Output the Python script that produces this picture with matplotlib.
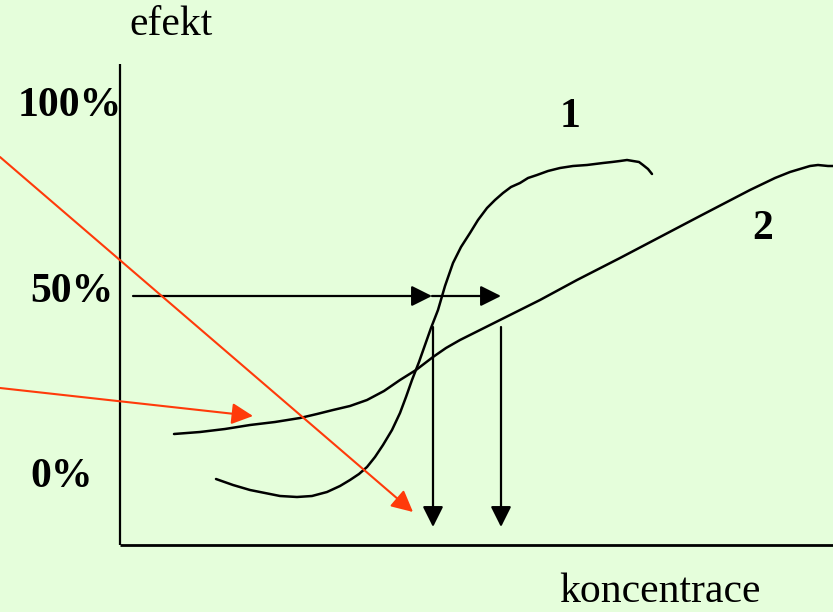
import matplotlib
matplotlib.use("Agg")
import matplotlib.pyplot as plt

# Curve 1 (steep sigmoid) - picture coordinates
curve1_x = [216, 233, 250, 265, 280, 297, 312, 327, 340, 350, 359, 367, 375, 383, 392,
            400, 406, 412, 419, 425, 431, 438, 445, 453, 461, 470, 478, 487, 495, 503,
            511, 520, 528, 537, 548, 560, 573, 587, 603, 612, 620, 627, 633, 639, 643,
            648, 652]
curve1_y = [479, 485, 490, 493, 496, 497, 496, 492, 486, 480, 474, 467, 457, 445, 430,
            413, 397, 380, 362, 345, 328, 310, 286, 263, 247, 233, 220, 208, 200, 193,
            187, 183, 178, 175, 171, 168, 166, 165, 163, 162, 161, 160, 161, 162, 165,
            169, 174]

# Curve 2 (shallow)
curve2_x = [174, 200, 225, 250, 275, 300, 317, 333, 350, 367, 384, 400, 416, 433, 446,
            460, 480, 500, 540, 577, 620, 660, 700, 750, 775, 790, 800, 810, 818, 828, 833]
curve2_y = [434, 432, 429, 425, 422, 418, 414, 410, 406, 400, 391, 380, 370, 357, 348,
            340, 330, 320, 300, 280, 258, 237, 216, 190, 178, 172, 169, 166, 165, 166, 166]

# Arrows: (x0, y0, x1, y1)
black_arrows = [(133, 296, 432, 296), (432, 296, 501, 296),
                (433, 327, 433, 527), (501, 327, 501, 527)]
red_arrows = [(0, 157, 413, 512), (0, 388, 253, 416)]

# Axis lines
yaxis = (120, 64, 120, 545)
xaxis = (120, 545, 833, 545)

labels_bold = [("100%", 70, 116), ("50%", 72, 302), ("0%", 62, 487),
               ("1", 570, 127), ("2", 763, 239)]
labels_reg = [("efekt", 171, 35), ("koncentrace", 660, 602)]

bg = "#e5fedb"
red = "#ff3a0a"

fig = plt.figure(figsize=(8.33, 6.12), dpi=100, facecolor=bg)
ax = fig.add_axes([0, 0, 1, 1])
ax.set_facecolor(bg)
ax.set_xlim(0, 833)
ax.set_ylim(612, 0)
ax.axis("off")

ax.plot([yaxis[0], yaxis[2]], [yaxis[1], yaxis[3]], color="black", lw=1.6, solid_capstyle="butt")
ax.plot([xaxis[0], xaxis[2]], [xaxis[1], xaxis[3]], color="black", lw=2.0, solid_capstyle="butt")

ax.plot(curve1_x, curve1_y, color="black", lw=1.8, solid_capstyle="round", solid_joinstyle="round")
ax.plot(curve2_x, curve2_y, color="black", lw=1.8, solid_capstyle="round", solid_joinstyle="round")

for x0, y0, x1, y1 in black_arrows:
    ax.annotate("", xy=(x1, y1), xytext=(x0, y0),
                arrowprops=dict(arrowstyle="-|>,head_length=1.0,head_width=0.5",
                                mutation_scale=12.5, lw=1.6, color="black",
                                shrinkA=0, shrinkB=0))
for x0, y0, x1, y1 in red_arrows:
    ax.annotate("", xy=(x1, y1), xytext=(x0, y0),
                arrowprops=dict(arrowstyle="-|>,head_length=1.0,head_width=0.5",
                                mutation_scale=13, lw=1.5, color=red,
                                shrinkA=0, shrinkB=0))

for t, x, y in labels_bold:
    ax.text(x, y, t, fontsize=30, fontweight="bold", family="Liberation Serif",
            ha="center", va="baseline")
for t, x, y in labels_reg:
    ax.text(x, y, t, fontsize=30, family="Liberation Serif", ha="center", va="baseline")

fig.savefig("out.png", dpi=100, facecolor=bg)
